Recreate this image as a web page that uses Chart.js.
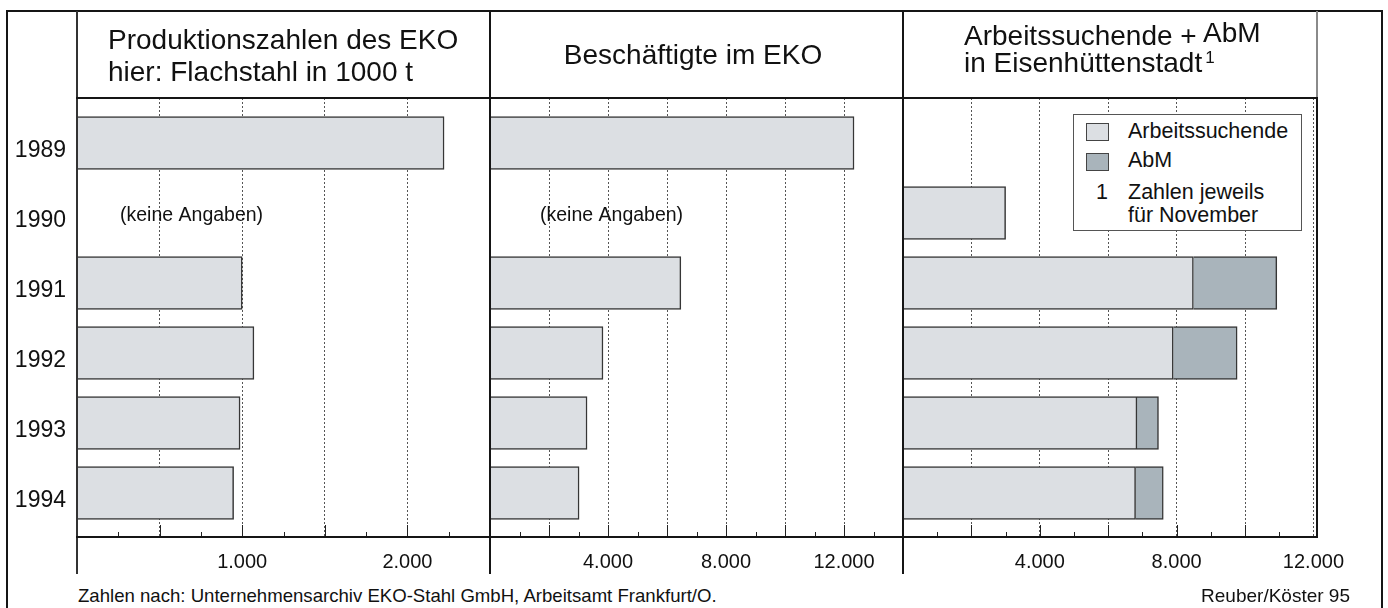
<!DOCTYPE html>
<html lang="de">
<head>
<meta charset="utf-8">
<title>EKO Eisenhüttenstadt 1989-1994</title>
<script src="https://cdn.jsdelivr.net/npm/chart.js@4.4.1/dist/chart.umd.min.js"></script>
<style>
  html, body { margin: 0; padding: 0; background: #fff; }
  body { width: 1388px; height: 608px; position: relative; overflow: hidden;
         font-family: "Liberation Sans", Arial, Helvetica, sans-serif; color: #111; }
  .box { position: absolute; top: 70px; height: 510px; }
  .ln { position: absolute; background: #151515; z-index: 3; }
  .t { position: absolute; white-space: nowrap; z-index: 5; }
  .sw { position: absolute; left: 1086px; width: 21px; border: 1px solid #444; z-index: 5; }
  .lg { font-size: 21.5px; line-height: 21px; }
</style>
</head>
<body>

<div class="box" style="left:0px;width:530px"><canvas id="c1"></canvas></div>
<div class="box" style="left:450px;width:490px"><canvas id="c2"></canvas></div>
<div class="box" style="left:863px;width:494px"><canvas id="c3"></canvas></div>

<!-- frame and panel lines -->
<div class="ln" style="left:6px;top:10px;width:1377px;height:2px"></div>
<div class="ln" style="left:6px;top:10px;width:2px;height:598px"></div>
<div class="ln" style="left:1381px;top:10px;width:2px;height:598px"></div>
<div class="ln" style="left:76px;top:11px;width:2px;height:563px;background:#333"></div>
<div class="ln" style="left:489px;top:11px;width:2px;height:563px"></div>
<div class="ln" style="left:902px;top:11px;width:2px;height:563px"></div>
<div class="ln" style="left:1316px;top:11px;width:2px;height:87px;background:#8a8a8a"></div>
<div class="ln" style="left:1316px;top:97px;width:2px;height:441px"></div>
<div class="ln" style="left:76px;top:97px;width:1242px;height:2px"></div>
<div class="ln" style="left:76px;top:536px;width:1242px;height:2px"></div>

<!-- titles -->
<div class="t" style="left:108px;top:24px;font-size:28px;line-height:32px">Produktionszahlen des EKO<br>hier: Flachstahl in 1000 t</div>
<div class="t" style="left:490px;width:406px;text-align:center;top:39px;font-size:28px;line-height:32px">Beschäftigte im EKO</div>
<div class="t" style="left:964px;top:22px;font-size:28px;line-height:27px">Arbeitssuchende + <span style="position:relative;top:-3px">AbM</span><br>in Eisenhüttenstadt<span style="position:relative;top:-9px;font-size:17px;margin-left:3px">1</span></div>

<!-- legend -->
<div style="position:absolute;left:1073px;top:114px;width:227px;height:115px;border:1px solid #555;background:#fff;z-index:4"></div>
<div class="sw" id="sw1" style="top:123px;height:16px"></div>
<div class="sw" id="sw2" style="top:153px;height:16px"></div>
<div class="t lg" style="left:1128px;top:121px">Arbeitssuchende</div>
<div class="t lg" style="left:1128px;top:150px">AbM</div>
<div class="t lg" style="left:1096px;top:182px">1</div>
<div class="t lg" style="left:1128px;top:182px">Zahlen jeweils</div>
<div class="t lg" style="left:1128px;top:205px">für November</div>

<!-- footer -->
<div class="t" style="left:78px;top:586px;font-size:18.6px;line-height:19px">Zahlen nach: Unternehmensarchiv EKO-Stahl GmbH, Arbeitsamt Frankfurt/O.</div>
<div class="t" style="right:38px;top:586px;font-size:19px;line-height:19px">Reuber/Köster 95</div>

<script>
// values
const years = ['1989', '1990', '1991', '1992', '1993', '1994'];
const production = [2222, null, 1000, 1071, 987, 948];     // Flachstahl in 1000 t
const employees = [12340, null, 6470, 3830, 3290, 3020];   // Beschäftigte im EKO
const seekers = [null, 3000, 8490, 7900, 6840, 6800];      // Arbeitssuchende
const abm = [null, null, 2440, 1870, 630, 810];            // AbM

const LIGHT = '#dcdfe3';
const DARK = '#a9b4bb';
const EDGE = '#363636';
const FONT = '"Liberation Sans", Arial, Helvetica, sans-serif';

document.getElementById('sw1').style.background = LIGHT;
document.getElementById('sw2').style.background = DARK;

Chart.defaults.font.family = FONT;
Chart.defaults.color = '#111';

const fmt = v => String(v).replace(/\B(?=(\d{3})+(?!\d))/g, '.');
const pts = arr => arr.map((v, i) => ({ x: v, y: i }));

// small ticks standing on the x axis
const minorTicks = {
  id: 'minorTicks',
  afterDatasetsDraw(chart, args, opts) {
    const sx = chart.scales.x, ctx = chart.ctx, bottom = chart.chartArea.bottom;
    ctx.save();
    ctx.strokeStyle = '#222';
    ctx.lineWidth = 1;
    for (let v = opts.step; v < sx.max; v += opts.step) {
      const px = Math.round(sx.getPixelForValue(v)) + 0.5;
      const len = (v % opts.major === 0) ? 12 : 5;
      ctx.beginPath();
      ctx.moveTo(px, bottom);
      ctx.lineTo(px, bottom - len);
      ctx.stroke();
    }
    ctx.restore();
  }
};

// "(keine Angaben)" in the empty row
const noData = {
  id: 'noData',
  afterDatasetsDraw(chart, args, opts) {
    if (!opts.text) return;
    const ctx = chart.ctx;
    const y = chart.scales.y.getPixelForValue(opts.index);
    ctx.save();
    ctx.font = '19.5px ' + FONT;
    ctx.fillStyle = '#111';
    ctx.textAlign = 'left';
    ctx.textBaseline = 'middle';
    ctx.fillText(opts.text, chart.chartArea.left + opts.dx, y + 3);
    ctx.restore();
  }
};

function bars(label, values, color) {
  return {
    label: label,
    data: pts(values),
    backgroundColor: color,
    borderColor: EDGE,
    borderWidth: 1.5,
    barThickness: 53,
    borderSkipped: 'start'
  };
}

function panel(id, datasets, cfg) {
  const yAxis = {
    type: 'linear', reverse: true, min: -0.643, max: 5.629, stacked: true, offset: false,
    display: !!cfg.years,
    afterBuildTicks: s => { s.ticks = years.map((_, i) => ({ value: i })); },
    grid: { display: false, drawTicks: false, offset: false },
    border: { display: false },
    ticks: { padding: 11, labelOffset: 8, color: '#111', font: { size: 23 }, callback: v => years[v] }
  };
  if (cfg.years) yAxis.afterFit = s => { s.width = 70; };

  return new Chart(document.getElementById(id), {
    type: 'bar',
    data: { datasets: datasets },
    plugins: [minorTicks, noData],
    options: {
      indexAxis: 'y',
      responsive: true,
      maintainAspectRatio: false,
      animation: false,
      layout: { padding: cfg.pad },
      plugins: {
        legend: { display: false },
        tooltip: { enabled: false },
        minorTicks: { step: cfg.minor, major: cfg.step },
        noData: cfg.noData || {}
      },
      scales: {
        x: {
          type: 'linear', min: 0, max: cfg.max, stacked: true, position: 'bottom',
          afterFit: s => { s.height = 43; },
          grid: { color: '#555', lineWidth: 1, drawTicks: false },
          border: { display: true, color: '#111', width: 2, dash: [2, 2] },
          ticks: {
            stepSize: cfg.step, autoSkip: false, maxRotation: 0, padding: 13,
            color: '#111', font: { size: 20 },
            callback: v => (v > 0 && v % cfg.label === 0) ? fmt(v) : ''
          }
        },
        y: yAxis
      }
    }
  });
}

panel('c1', [bars('Flachstahl', production, LIGHT)], {
  years: true, max: 2500, step: 500, minor: 250, label: 1000,
  pad: { left: 7, right: 40, top: 28, bottom: 0 },
  noData: { text: '(keine Angaben)', index: 1, dx: 43 }
});

panel('c2', [bars('Beschäftigte', employees, LIGHT)], {
  max: 14000, step: 2000, minor: 1000, label: 4000,
  pad: { left: 40, right: 37, top: 28, bottom: 0 },
  noData: { text: '(keine Angaben)', index: 1, dx: 50 }
});

panel('c3', [bars('Arbeitssuchende', seekers, LIGHT), bars('AbM', abm, DARK)], {
  max: 12000, step: 2000, minor: 1000, label: 4000,
  pad: { left: 40, right: 40, top: 28, bottom: 0 }
});
</script>
</body>
</html>
